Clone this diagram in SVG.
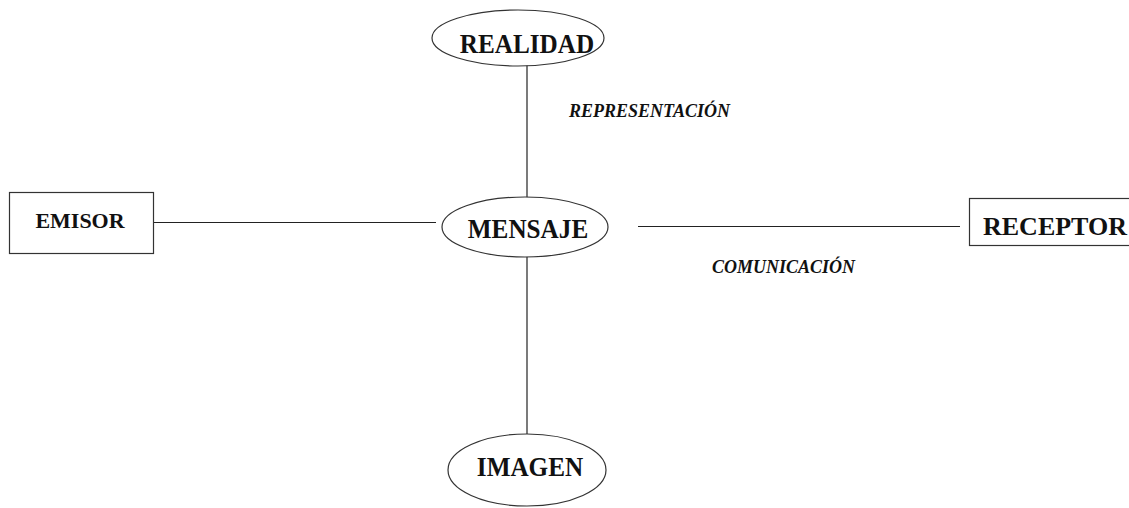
<svg xmlns="http://www.w3.org/2000/svg" width="1129" height="508" viewBox="0 0 1129 508">
<style>
.shape{fill:#fff;stroke:#333;stroke-width:1.2}
.lbl{font-family:"Liberation Serif","Times New Roman",serif;font-weight:bold;fill:#111;text-anchor:middle}
.edge{stroke:#222;stroke-width:1.2;fill:none}
.elbl{font-family:"Liberation Serif","Times New Roman",serif;font-weight:bold;font-style:italic;font-size:18px;fill:#111}
</style>
<rect width="1129" height="508" fill="#fff"/>
<g id="connectors">
<line class="edge" x1="527" y1="65" x2="527" y2="198"/>
<line class="edge" x1="527" y1="256" x2="527" y2="436"/>
<line class="edge" x1="154" y1="222.5" x2="436" y2="222.5"/>
<line class="edge" x1="638" y1="226.5" x2="960" y2="226.5"/>
<text class="elbl" x="569" y="117">REPRESENTACIÓN</text>
<text class="elbl" x="712" y="273">COMUNICACIÓN</text>
</g>
<g id="realidad">
<ellipse class="shape" cx="518" cy="38" rx="86" ry="28"/>
<text class="lbl" transform="translate(527,53) scale(0.9,1)" font-size="28">REALIDAD</text>
</g>
<g id="mensaje">
<ellipse class="shape" cx="525" cy="227" rx="83" ry="30"/>
<text class="lbl" transform="translate(528,238) scale(0.9,1)" font-size="28">MENSAJE</text>
</g>
<g id="emisor">
<rect class="shape" x="9.5" y="192.5" width="144" height="61"/>
<text class="lbl" x="80" y="228" font-size="22">EMISOR</text>
</g>
<g id="receptor">
<rect class="shape" x="969.5" y="198.5" width="170" height="47"/>
<text class="lbl" x="1055" y="235" font-size="26">RECEPTOR</text>
</g>
<g id="imagen">
<ellipse class="shape" cx="527" cy="470" rx="79" ry="36"/>
<text class="lbl" transform="translate(530,476) scale(0.9,1)" font-size="28">IMAGEN</text>
</g>
</svg>
